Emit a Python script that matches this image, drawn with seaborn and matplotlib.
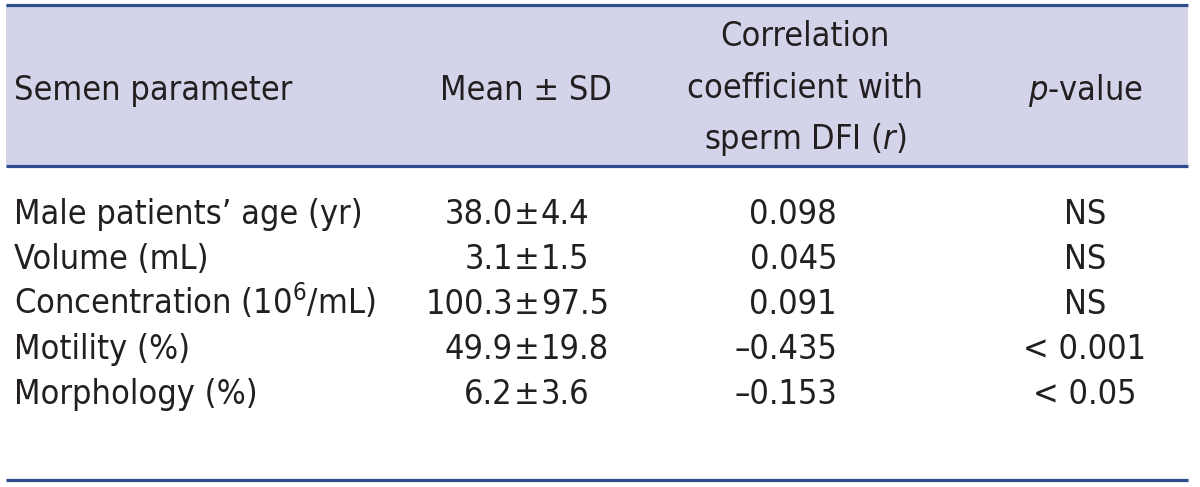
import matplotlib
matplotlib.use('Agg')
import matplotlib.pyplot as plt
import seaborn as sns
from matplotlib import font_manager
from matplotlib.patches import Rectangle

# table content
parametros = ['Male patients\u2019 age (yr)', 'Volume (mL)',
              'Concentration (10$^{\\mathrm{6}}$/mL)', 'Motility (%)', 'Morphology (%)']
medias = [38.0, 3.1, 100.3, 49.9, 6.2]
desvios = [4.4, 1.5, 97.5, 19.8, 3.6]
correlacoes = ['0.098', '0.045', '0.091', '\u20130.435', '\u20130.153']
valores_p = ['NS', 'NS', 'NS', '< 0.001', '< 0.05']
cabecalho_corr = ['Correlation', 'coefficient with', 'sperm DFI ($\\mathit{r}$)']


def _fonte_estreita():
    # prefer a condensed / narrow face if one is installed
    for f in font_manager.fontManager.ttflist:
        nome = f.fname.lower()
        if ('condensed' in nome or 'narrow' in nome) and f.style == 'normal' \
                and f.weight in (400, 'normal', 'regular') and 'semi' not in nome:
            return f.name, f.stretch
    return 'Roboto', 'normal'


sns.set_theme(style='white')
FONTE, ESTICA = _fonte_estreita()
plt.rcParams['font.family'] = [FONTE, 'DejaVu Sans']
plt.rcParams['font.stretch'] = ESTICA
plt.rcParams['mathtext.fontset'] = 'custom'
plt.rcParams['mathtext.rm'] = FONTE
plt.rcParams['mathtext.it'] = FONTE + ':italic'

COR_TEXTO = '#231f20'
COR_LINHA = '#2e4c8e'
COR_FUNDO = '#d3d4ea'

fig = plt.figure(figsize=(12, 4.87), dpi=100)
eixo = fig.add_axes([0, 0, 1, 1])
eixo.set_xlim(0, 1200)
eixo.set_ylim(487, 0)
eixo.axis('off')

# fit the font size so the first row label is about as wide as in the source
rend = fig.canvas.get_renderer()
teste = eixo.text(0, 0, parametros[0], fontsize=20)
largura = teste.get_window_extent(rend).width
teste.remove()
TAM = 20 * 348 / largura

# header band and rules
eixo.add_patch(Rectangle((6, 4), 1182, 162, facecolor=COR_FUNDO, edgecolor='none'))
for y in (4.5, 166, 480):
    eixo.plot([6, 1188], [y, y], color=COR_LINHA, lw=2.3, solid_capstyle='butt')

kw = dict(fontsize=TAM, color=COR_TEXTO, va='baseline')

# header
eixo.text(14, 100, 'Semen parameter', ha='left', **kw)
eixo.text(526, 100, 'Mean \u00b1 SD', ha='center', **kw)
for i, linha in enumerate(cabecalho_corr):
    eixo.text(805, 46 + i * 51.5, linha, ha='center', **kw)
eixo.text(1085, 100, '$\\mathit{p}$-value', ha='center', **kw)

# body rows
for i in range(len(parametros)):
    y = 224 + i * 45
    eixo.text(14, y, parametros[i], ha='left', **kw)
    eixo.text(513, y, f'{medias[i]:.1f}', ha='right', **kw)
    eixo.text(527, y, '\u00b1', ha='center', **kw)
    eixo.text(541, y, f'{desvios[i]:.1f}', ha='left', **kw)
    eixo.text(837, y, correlacoes[i], ha='right', **kw)
    eixo.text(1085, y, valores_p[i], ha='center', **kw)

fig.savefig('out.png', dpi=100)
